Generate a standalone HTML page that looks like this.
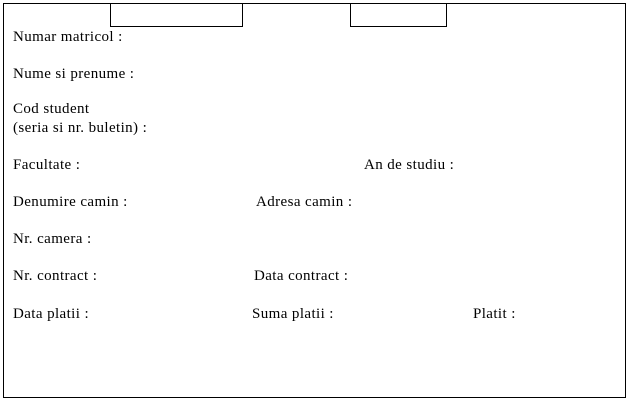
<!DOCTYPE html>
<html><head><style>body{margin:0;background:#fff}svg{display:block}</style></head>
<body>
<svg width="630" height="402" xmlns="http://www.w3.org/2000/svg" font-family="Liberation Serif, serif" font-size="15" letter-spacing="0.4" fill="#000">
<rect x="3.5" y="3.5" width="622" height="394" fill="none" stroke="#000"/>
<polyline points="110.5,3.5 110.5,26.5 242.5,26.5 242.5,3.5" fill="none" stroke="#000"/>
<polyline points="350.5,3.5 350.5,26.5 446.5,26.5 446.5,3.5" fill="none" stroke="#000"/>
<text x="13" y="41">Numar matricol :</text>
<text x="13" y="78">Nume si prenume :</text>
<text x="13" y="113">Cod student</text>
<text x="13" y="132">(seria si nr. buletin) :</text>
<text x="13" y="169">Facultate :</text>
<text x="364" y="169">An de studiu :</text>
<text x="13" y="206">Denumire camin :</text>
<text x="256" y="206">Adresa camin :</text>
<text x="13" y="243">Nr. camera :</text>
<text x="13" y="280">Nr. contract :</text>
<text x="254" y="280">Data contract :</text>
<text x="13" y="318">Data platii :</text>
<text x="252" y="318">Suma platii :</text>
<text x="473" y="318">Platit :</text>
</svg>
</body></html>
